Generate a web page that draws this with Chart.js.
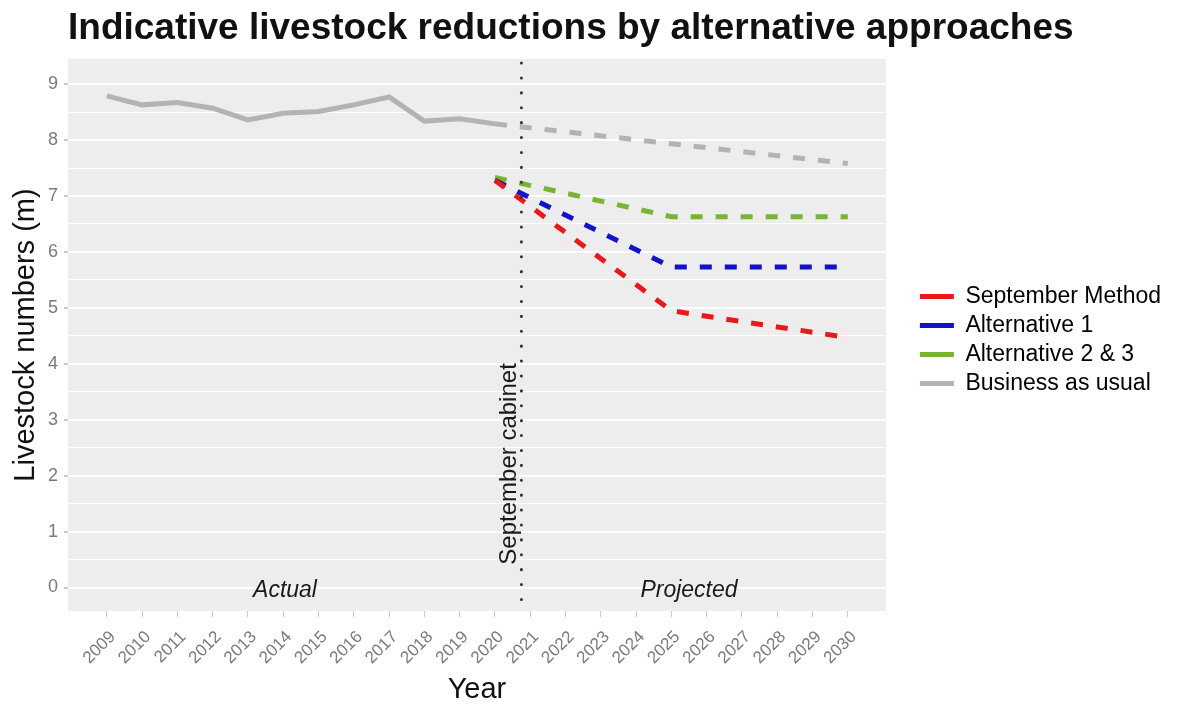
<!DOCTYPE html>
<html>
<head>
<meta charset="utf-8">
<script src="https://cdn.jsdelivr.net/npm/chart.js@4.4.0/dist/chart.umd.min.js"></script>
<style>
  body { margin: 0; background: #fff; }
</style>
</head>
<body>
<canvas id="myChart" width="1178" height="709"></canvas>
<script>
// tick labels
let years = [2009, 2010, 2011, 2012, 2013, 2014, 2015, 2016, 2017, 2018, 2019, 2020,
             2021, 2022, 2023, 2024, 2025, 2026, 2027, 2028, 2029, 2030];
let yTicks = [0, 1, 2, 3, 4, 5, 6, 7, 8, 9];

// actual numbers
let actualYears = [2009, 2010, 2011, 2012, 2013, 2014, 2015, 2016, 2017, 2018, 2019, 2020];
let actual = [8.79, 8.63, 8.67, 8.57, 8.36, 8.48, 8.51, 8.63, 8.77, 8.34, 8.38, 8.29];

// projections (values at the visible corners of each line)
let septYears = [2020, 2025, 2026, 2030];
let septMethod = [7.28, 4.95, 4.85, 4.47];
let alt1Years = [2020, 2025, 2030];
let alt1 = [7.28, 5.73, 5.73];
let alt23Years = [2020, 2025, 2030];
let alt23 = [7.33, 6.63, 6.63];
let bauYears = [2020, 2030];
let bau = [8.29, 7.58];

let cabinetYear = 2020.75;

let font = "'Liberation Sans', Arial, sans-serif";

function pts(xs, ys) {
  return xs.map((x, i) => ({ x: x, y: ys[i] }));
}

function projected(label, xs, ys, color) {
  return {
    label: label,
    data: pts(xs, ys),
    borderColor: color,
    backgroundColor: color,
    borderWidth: 5,
    borderDash: [12, 13],
    pointRadius: 0,
    tension: 0,
  };
}

let decor = {
  id: "decor",
  afterLayout(chart) {
    // legend sits a little away from the panel and higher up, like ggplot
    let lg = chart.legend;
    lg.left += 28;
    lg.right += 28;
    lg.top -= 44;
    lg.bottom -= 44;
  },
  beforeDraw(chart) {
    let { ctx, chartArea: a } = chart;
    ctx.save();
    ctx.fillStyle = "#ededed";
    ctx.fillRect(a.left, a.top, a.right - a.left, a.bottom - a.top);
    ctx.restore();
  },
  afterDatasetsDraw(chart) {
    let { ctx, chartArea: a } = chart;
    let x = chart.scales.x, y = chart.scales.y;
    ctx.save();
    // September cabinet marker
    let cx = x.getPixelForValue(cabinetYear);
    ctx.strokeStyle = "#333";
    ctx.lineWidth = 3;
    ctx.lineCap = "round";
    ctx.setLineDash([0.1, 14.8]);
    ctx.beginPath();
    ctx.moveTo(cx, a.top + 4);
    ctx.lineTo(cx, a.bottom);
    ctx.stroke();
    ctx.setLineDash([]);

    ctx.fillStyle = "#1a1a1a";
    ctx.font = "italic 23px " + font;
    ctx.textAlign = "center";
    ctx.textBaseline = "middle";
    ctx.fillText("Actual", x.getPixelForValue(2014.05), y.getPixelForValue(-0.05));
    ctx.fillText("Projected", x.getPixelForValue(2025.5), y.getPixelForValue(-0.05));

    ctx.font = "24px " + font;
    ctx.translate(x.getPixelForValue(2020.4), y.getPixelForValue(2.21));
    ctx.rotate(-Math.PI / 2);
    ctx.fillText("September cabinet", 0, 0);
    ctx.restore();
  },
  afterDraw(chart) {
    let ctx = chart.ctx;
    ctx.save();
    ctx.fillStyle = "#111";
    ctx.font = "bold 37px " + font;
    ctx.textAlign = "left";
    ctx.textBaseline = "alphabetic";
    ctx.fillText("Indicative livestock reductions by alternative approaches", 68, 39);
    ctx.restore();
  },
};

let myChart = document.getElementById("myChart").getContext("2d");
let livestockChart = new Chart(myChart, {
  type: "line",
  data: {
    datasets: [
      projected("September Method", septYears, septMethod, "#e8191b"),
      projected("Alternative 1", alt1Years, alt1, "#1212c8"),
      projected("Alternative 2 & 3", alt23Years, alt23, "#79b530"),
      projected("Business as usual", bauYears, bau, "#b3b3b3"),
      {
        label: "Actual",
        data: pts(actualYears, actual),
        borderColor: "#b3b3b3",
        backgroundColor: "#b3b3b3",
        borderWidth: 5,
        pointRadius: 0,
        tension: 0,
      },
    ],
  },
  options: {
    responsive: false,
    animation: false,
    layout: {
      padding: { top: 59, left: 0, right: 35, bottom: 0 },
    },
    scales: {
      x: {
        type: "linear",
        min: 2007.9,
        max: 2031.08,
        afterBuildTicks: (s) => { s.ticks = years.map((v) => ({ value: v })); },
        afterFit: (s) => { s.height = 98; },
        ticks: {
          callback: (v) => String(v),
          minRotation: 45,
          maxRotation: 45,
          color: "#7a7a7a",
          font: { size: 17, family: font },
          padding: 10,
          labelOffset: 6,
        },
        grid: {
          drawOnChartArea: false,
          tickLength: 6,
          color: "#c8c8c8",
        },
        border: { display: false },
        title: {
          display: true,
          text: "Year",
          color: "#111",
          font: { size: 29, family: font },
          padding: { top: 0, bottom: 2 },
        },
      },
      y: {
        min: -0.42,
        max: 9.45,
        afterBuildTicks: (s) => {
          let t = [];
          yTicks.forEach((v) => {
            t.push({ value: v });
            if (v < 9) t.push({ value: v + 0.5 });
          });
          s.ticks = t;
        },
        afterFit: (s) => { s.width = 68; },
        ticks: {
          callback: (v) => (v % 1 === 0 ? String(v) : ""),
          color: "#7a7a7a",
          font: { size: 18, family: font },
          padding: 6,
        },
        grid: {
          color: "#ffffff",
          lineWidth: (c) => (c.tick && c.tick.value % 1 === 0 ? 2 : 1),
          tickColor: (c) => (c.tick && c.tick.value % 1 === 0 ? "#c8c8c8" : "rgba(0,0,0,0)"),
          tickLength: 4,
        },
        border: { display: false },
        title: {
          display: true,
          text: "Livestock numbers (m)",
          color: "#111",
          font: { size: 29, family: font },
          padding: { top: 9, bottom: 0 },
        },
      },
    },
    plugins: {
      title: { display: false },
      tooltip: { enabled: false },
      legend: {
        display: true,
        position: "right",
        align: "center",
        labels: {
          boxWidth: 34,
          boxHeight: 5,
          padding: 6,
          color: "#111",
          font: { size: 23, family: font },
          filter: (item) => item.text !== "Actual",
          generateLabels: (chart) =>
            chart.data.datasets.map((ds, i) => ({
              text: ds.label,
              fillStyle: ds.borderColor,
              strokeStyle: ds.borderColor,
              lineWidth: 0,
              lineDash: [],
              hidden: false,
              datasetIndex: i,
            })),
        },
      },
    },
  },
  plugins: [decor],
});
</script>
</body>
</html>
